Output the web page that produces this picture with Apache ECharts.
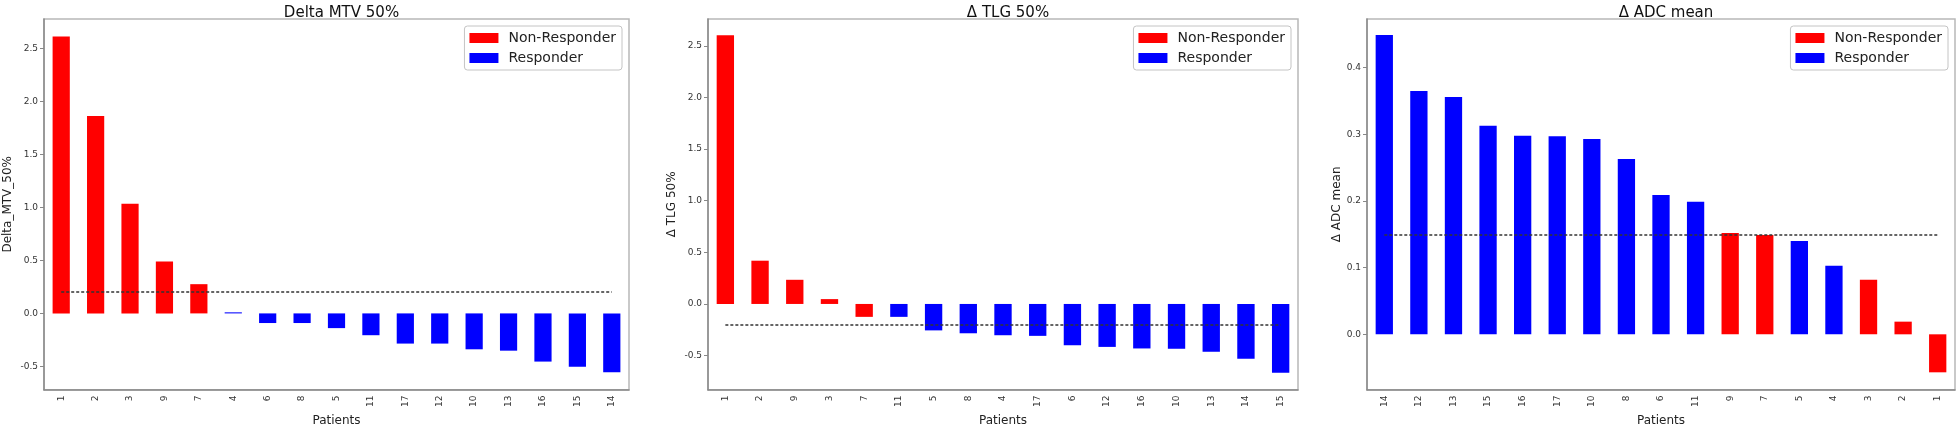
<!DOCTYPE html>
<html>
<head>
<meta charset="utf-8">
<script src="https://cdn.jsdelivr.net/npm/echarts@6/dist/echarts.min.js"></script>
<style>
  html, body { margin: 0; background: #fff; }
  #chart { width: 1960px; height: 432px; }
</style>
</head>
<body>
<div id="chart"></div>
<script>
// patients in plotted order, and the measured change per patient
const patientsMTV = ['1', '2', '3', '9', '7', '4', '6', '8', '5', '11', '17', '12', '10', '13', '16', '15', '14'];
const valuesMTV = [2.615, 1.864, 1.036, 0.491, 0.276, 0.01, -0.091, -0.091, -0.139, -0.206, -0.285, -0.285, -0.339, -0.352, -0.455, -0.503, -0.555];

const patientsTLG = ['1', '2', '9', '3', '7', '11', '5', '8', '4', '17', '6', '12', '16', '10', '13', '14', '15'];
const valuesTLG = [2.603, 0.419, 0.234, 0.047, -0.125, -0.125, -0.256, -0.284, -0.303, -0.309, -0.4, -0.416, -0.431, -0.434, -0.463, -0.531, -0.666];

const patientsADC = ['14', '12', '13', '15', '16', '17', '10', '8', '6', '11', '9', '7', '5', '4', '3', '2', '1'];
const valuesADC = [0.449, 0.365, 0.356, 0.313, 0.298, 0.297, 0.293, 0.263, 0.209, 0.199, 0.152, 0.149, 0.14, 0.103, 0.082, 0.019, -0.057];

const nonResponders = ['1', '2', '3', '7', '9'];

const titles = ['Delta MTV 50%', 'Δ TLG 50%', 'Δ ADC mean'];
const yNames = ['Delta_MTV_50%', 'Δ TLG 50%', 'Δ ADC mean'];
const thresholds = [0.2, -0.2, 0.15];

const RED = '#ff0000';
const BLUE = '#0000ff';
const FONT = 'DejaVu Sans';

// layout of the three axes boxes, in pixels
const panels = [
    { left: 44, width: 585, min: -0.72, max: 2.78, split: 7, nameGap: 30 },
    { left: 708, width: 590, min: -0.83, max: 2.76, split: 7, nameGap: 30 },
    { left: 1367, width: 588, min: -0.083, max: 0.473, split: 5, nameGap: 23 }
];
const data = [
    [patientsMTV, valuesMTV],
    [patientsTLG, valuesTLG],
    [patientsADC, valuesADC]
];

const option = {
    animation: false,
    backgroundColor: '#fff',
    textStyle: { fontFamily: FONT },
    title: [], legend: [], grid: [], xAxis: [], yAxis: [], series: []
};

panels.forEach((p, i) => {
    const [patients, values] = data[i];
    const isNon = patients.map(id => nonResponders.includes(id));

    option.title.push({
        text: titles[i],
        left: p.left + p.width / 2,
        textAlign: 'center',
        top: 1,
        textStyle: { fontFamily: FONT, fontSize: 15, fontWeight: 'normal', color: '#111' }
    });
    option.legend.push({
        data: ['Non-Responder', 'Responder'],
        orient: 'vertical',
        right: 1960 - (p.left + p.width) + 7,
        top: 26,
        padding: [5, 6, 5, 5],
        itemGap: 6,
        itemWidth: 29,
        itemHeight: 10,
        borderColor: '#c4c4c4',
        borderWidth: 1,
        borderRadius: 3,
        backgroundColor: '#fff',
        icon: 'rect',
        textStyle: { fontFamily: FONT, fontSize: 14, color: '#222', padding: [0, 0, 0, 5] }
    });
    option.grid.push({
        left: p.left, top: 19, width: p.width, height: 383,
        show: true, borderColor: '#b8b8b8', borderWidth: 1.5
    });
    option.xAxis.push({
        type: 'category',
        gridIndex: i,
        data: patients,
        name: 'Patients',
        nameLocation: 'middle',
        nameGap: 20,
        nameTextStyle: { fontFamily: FONT, fontSize: 12, color: '#222' },
        axisLine: { onZero: false, lineStyle: { color: '#888', width: 1.5 } },
        axisTick: { alignWithLabel: true, length: 4, lineStyle: { color: '#888' } },
        axisLabel: { rotate: 90, fontSize: 9, color: '#333', margin: 6, interval: 0 },
        splitLine: { show: false }
    });
    option.yAxis.push({
        type: 'value',
        gridIndex: i,
        min: p.min,
        max: p.max,
        splitNumber: p.split,
        name: yNames[i],
        nameLocation: 'middle',
        nameGap: p.nameGap,
        nameTextStyle: { fontFamily: FONT, fontSize: 12, color: '#222' },
        axisLine: { show: true, lineStyle: { color: '#888', width: 1.5 } },
        axisTick: { show: true, length: 4, lineStyle: { color: '#888' } },
        axisLabel: {
            fontSize: 9, color: '#333', margin: 6,
            showMinLabel: false, showMaxLabel: false,
            formatter: v => v.toFixed(1)
        },
        splitLine: { show: false }
    });

    option.series.push({
        name: 'Non-Responder',
        type: 'bar',
        xAxisIndex: i, yAxisIndex: i,
        barWidth: '50%',
        barGap: '-100%',
        itemStyle: { color: RED },
        data: values.map((v, k) => isNon[k] ? v : null),
        markLine: {
            silent: true,
            symbol: ['none', 'none'],
            label: { show: false },
            lineStyle: { color: '#333', width: 1.5, type: [3, 2] },
            data: [[
                { coord: [patients[0], thresholds[i]] },
                { coord: [patients[patients.length - 1], thresholds[i]] }
            ]]
        }
    });
    option.series.push({
        name: 'Responder',
        type: 'bar',
        xAxisIndex: i, yAxisIndex: i,
        barWidth: '50%',
        barGap: '-100%',
        itemStyle: { color: BLUE },
        data: values.map((v, k) => isNon[k] ? null : v)
    });
});

const chart = echarts.init(document.getElementById('chart'));
chart.setOption(option);
</script>
</body>
</html>
